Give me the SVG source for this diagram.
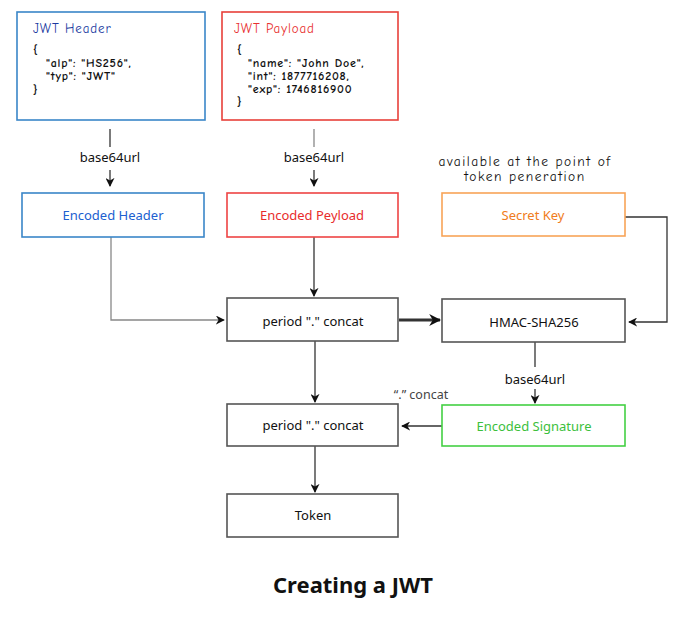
<svg xmlns="http://www.w3.org/2000/svg" width="691" height="628" viewBox="0 0 691 628">
<style>
.box{fill:#fff;stroke-width:1.6}
.hand{font-family:"Comic Neue","DejaVu Sans","Liberation Sans",sans-serif;font-size:12px;font-weight:700;letter-spacing:0.8px;fill:#111}
.note{font-family:"Comic Neue","DejaVu Sans","Liberation Sans",sans-serif;font-size:13.5px;font-weight:400;letter-spacing:1.5px;fill:#111;text-anchor:middle}
.htitle{font-family:"Comic Neue","DejaVu Sans","Liberation Sans",sans-serif;font-size:13px;font-weight:400;letter-spacing:0.9px}
.lbl{font-family:"Noto Sans","DejaVu Sans",sans-serif;font-size:13px;text-anchor:middle;dominant-baseline:central}
.conn{fill:none;stroke:#333;stroke-width:1.3}
.gray{stroke:#888}
.thick{stroke-width:3}
</style>
<defs>
<marker id="ah" viewBox="0 0 10 10" refX="9" refY="5" markerWidth="9" markerHeight="9" markerUnits="userSpaceOnUse" orient="auto">
<path d="M0,0 L10,5 L0,10 L3,5 Z" fill="#111"/>
</marker>
<marker id="ahb" viewBox="0 0 10 10" refX="9" refY="5" markerWidth="12" markerHeight="12" markerUnits="userSpaceOnUse" orient="auto">
<path d="M0,0 L10,5 L0,10 L3,5 Z" fill="#111"/>
</marker>
</defs>
<rect width="691" height="628" fill="#fff"/>

<g id="connectors">
<line class="conn" x1="110" y1="129" x2="110" y2="147"/>
<text class="lbl" x="110" y="157" fill="#111">base64url</text>
<line class="conn" x1="110" y1="170" x2="110" y2="186" marker-end="url(#ah)"/>
<line class="conn gray" x1="314" y1="129" x2="314" y2="147"/>
<text class="lbl" x="314" y="157" fill="#111">base64url</text>
<line class="conn" x1="314" y1="170" x2="314" y2="186" marker-end="url(#ah)"/>
<path class="conn gray" d="M111,237 V320 H224" marker-end="url(#ah)"/>
<line class="conn" x1="314" y1="237" x2="314" y2="296" marker-end="url(#ah)"/>
<line class="conn thick" x1="399" y1="320" x2="440" y2="320" marker-end="url(#ahb)"/>
<path class="conn" d="M625,217 H667 V322 H629" marker-end="url(#ah)"/>
<line class="conn" x1="535" y1="342" x2="535" y2="367"/>
<text class="lbl" x="535" y="379" fill="#111">base64url</text>
<line class="conn" x1="535" y1="389" x2="535" y2="403" marker-end="url(#ah)"/>
<line class="conn" x1="315" y1="341" x2="315" y2="402" marker-end="url(#ah)"/>
<line class="conn" x1="442" y1="426" x2="402" y2="426" marker-end="url(#ah)"/>
<text class="lbl" x="421" y="394" fill="#444" style="font-size:12.5px">“.” concat</text>
<line class="conn" x1="315" y1="446" x2="315" y2="492" marker-end="url(#ah)"/>
</g>

<g id="jwt-header">
<rect class="box" x="17" y="12" width="188" height="108" stroke="#3a86c8"/>
<text class="htitle" x="33" y="33" fill="#1a3aa0">JWT Header</text>
<text class="hand" x="33" y="54">{</text>
<text class="hand" x="46" y="67">"alp": "HS256",</text>
<text class="hand" x="46" y="80">"typ": "JWT"</text>
<text class="hand" x="33" y="94">}</text>
</g>

<g id="jwt-payload">
<rect class="box" x="222" y="12" width="176" height="108" stroke="#e8403a"/>
<text class="htitle" x="234" y="33" fill="#e83030">JWT Payload</text>
<text class="hand" x="237" y="54">{</text>
<text class="hand" x="248" y="67">"name": "John Doe",</text>
<text class="hand" x="248" y="80">"int": 1877716208,</text>
<text class="hand" x="248" y="93">"exp": 1746816900</text>
<text class="hand" x="237" y="106">}</text>
</g>

<g id="secret-note">
<text class="note" x="525" y="166">available at the point of</text>
<text class="note" x="525" y="181">token peneration</text>
</g>

<g id="encoded-header">
<rect class="box" x="22" y="193" width="182" height="44" stroke="#3a86c8"/>
<text class="lbl" x="113" y="215" fill="#2060d0">Encoded Header</text>
</g>

<g id="encoded-payload">
<rect class="box" x="227" y="193" width="171" height="44" stroke="#ee4444"/>
<text class="lbl" x="312" y="215" fill="#e82c2c">Encoded Peyload</text>
</g>

<g id="secret-key">
<rect class="box" x="442" y="193" width="183" height="43" stroke="#f8a458"/>
<text class="lbl" x="533" y="215" fill="#f07c20">Secret Key</text>
</g>

<g id="concat1">
<rect class="box" x="227" y="298" width="171" height="43" stroke="#555"/>
<text class="lbl" x="313" y="321" fill="#111">period "." concat</text>
</g>

<g id="hmac">
<rect class="box" x="442" y="299" width="183" height="43" stroke="#555"/>
<text class="lbl" x="534" y="322" fill="#111">HMAC-SHA256</text>
</g>

<g id="encoded-signature">
<rect class="box" x="442" y="405" width="183" height="41" stroke="#44d044"/>
<text class="lbl" x="534" y="426" fill="#3cc03c">Encoded Signature</text>
</g>

<g id="concat2">
<rect class="box" x="227" y="404" width="171" height="42" stroke="#555"/>
<text class="lbl" x="313" y="425" fill="#111">period "." concat</text>
</g>

<g id="token">
<rect class="box" x="227" y="494" width="171" height="43" stroke="#555"/>
<text class="lbl" x="313" y="515" fill="#111">Token</text>
</g>

<text x="353" y="593" text-anchor="middle" font-family="Noto Sans, DejaVu Sans, sans-serif" font-weight="bold" font-size="22" fill="#111">Creating a JWT</text>
</svg>
